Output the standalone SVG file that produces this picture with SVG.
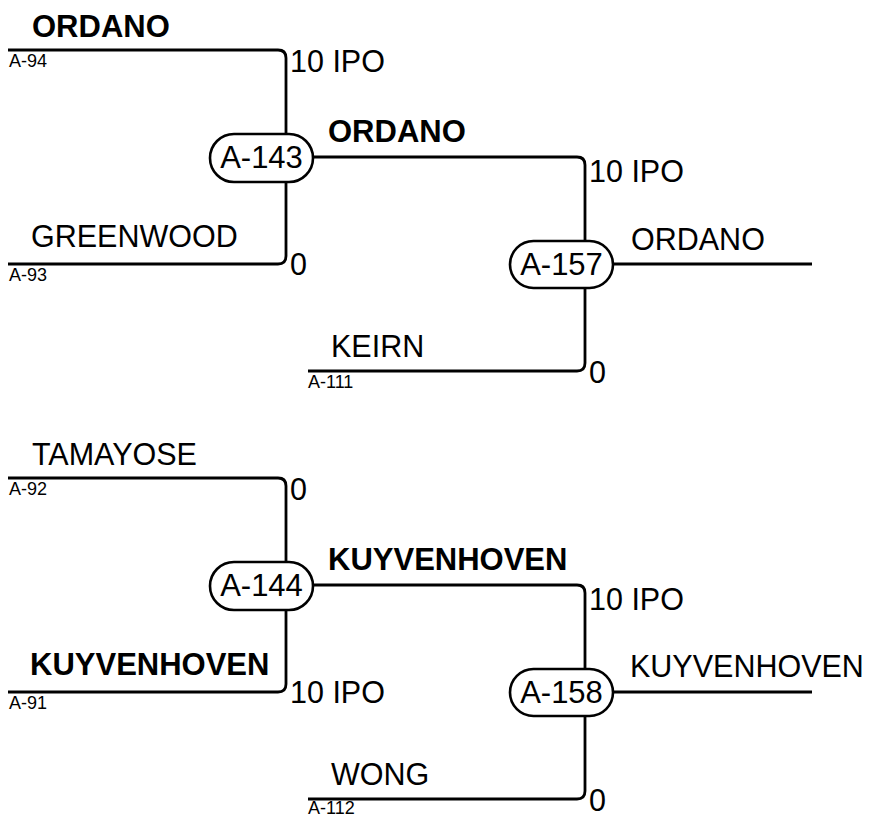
<svg xmlns="http://www.w3.org/2000/svg" width="874" height="817" viewBox="0 0 874 817">
<style>
.w{fill:none;stroke:#000;stroke-width:2.8}
.n rect{fill:#fff;stroke:#000;stroke-width:2.6}
text{font-family:"Liberation Sans",Arial,sans-serif;fill:#000}
.l{font-size:30.5px}
.b{font-size:31px;font-weight:bold}
.s{font-size:18px}
.nt{font-size:31px;text-anchor:middle}
</style>
<rect width="874" height="817" fill="#fff"/>
<g id="connectors">
<path class="w" d="M8,50H278Q286,50 286,58V134"/>
<path class="w" d="M8,264H278Q286,264 286,256V182"/>
<path class="w" d="M313,157H577Q585,157 585,165V241"/>
<path class="w" d="M308,371H577Q585,371 585,363V288"/>
<path class="w" d="M613,264H812"/>
<path class="w" d="M8,478H278Q286,478 286,486V562"/>
<path class="w" d="M8,692H278Q286,692 286,684V610"/>
<path class="w" d="M313,585H577Q585,585 585,593V669"/>
<path class="w" d="M308,799H577Q585,799 585,791V716"/>
<path class="w" d="M613,692H812"/>
</g>
<g id="labels">
<text class="b" x="32" y="37">ORDANO</text>
<text class="s" x="9" y="67">A-94</text>
<text class="l" x="290" y="72">10 IPO</text>
<text class="l" x="31" y="247">GREENWOOD</text>
<text class="s" x="9" y="281">A-93</text>
<text class="l" x="290" y="275">0</text>
<text class="b" x="328" y="142">ORDANO</text>
<text class="l" x="589" y="182">10 IPO</text>
<text class="l" x="631" y="250">ORDANO</text>
<text class="l" x="331" y="357">KEIRN</text>
<text class="s" x="308" y="388">A-111</text>
<text class="l" x="589" y="383">0</text>

<text class="l" x="32" y="465">TAMAYOSE</text>
<text class="s" x="9" y="495">A-92</text>
<text class="l" x="290" y="500">0</text>
<text class="b" x="328" y="570">KUYVENHOVEN</text>
<text class="l" x="589" y="610">10 IPO</text>
<text class="b" x="30" y="675">KUYVENHOVEN</text>
<text class="s" x="9" y="709">A-91</text>
<text class="l" x="290" y="703">10 IPO</text>
<text class="l" x="630" y="677">KUYVENHOVEN</text>
<text class="l" x="331" y="785">WONG</text>
<text class="s" x="308" y="814">A-112</text>
<text class="l" x="589" y="811">0</text>
</g>
<g id="A-143" class="n"><rect x="210" y="134" width="103" height="48" rx="24"/><text class="nt" x="261.5" y="168">A-143</text></g>
<g id="A-157" class="n"><rect x="510" y="241" width="103" height="47" rx="23.5"/><text class="nt" x="561.5" y="275">A-157</text></g>
<g id="A-144" class="n"><rect x="210" y="562" width="103" height="48" rx="24"/><text class="nt" x="261.5" y="596">A-144</text></g>
<g id="A-158" class="n"><rect x="510" y="669" width="103" height="47" rx="23.5"/><text class="nt" x="561.5" y="703">A-158</text></g>
</svg>
